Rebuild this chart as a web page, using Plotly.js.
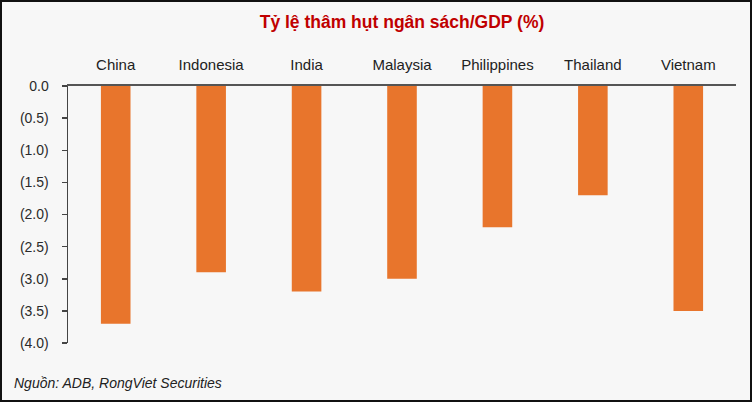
<!DOCTYPE html>
<html>
<head>
<meta charset="utf-8">
<script src="https://cdn.plot.ly/plotly-3.0.1.min.js"></script>
<style>
html,body{margin:0;padding:0;background:#f7f7f7;}
#wrap{position:relative;width:752px;height:402px;}
#chart{width:752px;height:402px;}
#frame{position:absolute;left:0;top:0;width:752px;height:402px;box-sizing:border-box;border:2px solid #111;pointer-events:none;}
</style>
</head>
<body>
<div id="wrap"><div id="chart"></div><div id="frame"></div></div>
<script>
const categories = ["China", "Indonesia", "India", "Malaysia", "Philippines", "Thailand", "Vietnam"];
const deficit = [-3.7, -2.9, -3.2, -3.0, -2.2, -1.7, -3.5];
const yTickVals = [0, -0.5, -1, -1.5, -2, -2.5, -3, -3.5, -4];
const yTickText = ["0.0", "(0.5)", "(1.0)", "(1.5)", "(2.0)", "(2.5)", "(3.0)", "(3.5)", "(4.0)"];
const titleText = "Tỷ lệ thâm hụt ngân sách/GDP (%)";
const sourceText = "Nguồn: ADB, RongViet Securities";

const trace = {
  type: "bar",
  x: categories,
  y: deficit,
  marker: {color: "#e8752c", line: {width: 0}},
  hoverinfo: "skip"
};

const layout = {
  width: 752,
  height: 402,
  paper_bgcolor: "#f7f7f7",
  plot_bgcolor: "#f7f7f7",
  margin: {l: 68, r: 16, t: 86, b: 59},
  bargap: 0.69,
  showlegend: false,
  font: {family: "Liberation Sans, Arial, sans-serif", color: "#222"},
  title: {
    text: "<b>" + titleText + "</b>",
    font: {size: 17.5, color: "#c00000", family: "Liberation Sans, Arial, sans-serif"},
    x: 0.5, xref: "paper", xanchor: "center",
    y: 0.945, yref: "container", yanchor: "middle"
  },
  xaxis: {
    side: "top",
    type: "category",
    showline: true,
    linecolor: "#555",
    linewidth: 2,
    ticks: "",
    showgrid: false,
    zeroline: false,
    tickfont: {size: 15, color: "#222"},
    ticklabelstandoff: 8,
    fixedrange: true
  },
  yaxis: {
    range: [-4, 0],
    tickvals: yTickVals,
    ticktext: yTickText,
    showline: true,
    linecolor: "#444",
    linewidth: 1.5,
    ticks: "outside",
    ticklen: 5,
    tickwidth: 1.5,
    tickcolor: "#444",
    showgrid: false,
    zeroline: false,
    tickfont: {size: 14, color: "#2a2a2a"},
    ticklabelstandoff: 10,
    fixedrange: true
  },
  annotations: [{
    text: "<i>" + sourceText + "</i>",
    xref: "paper", yref: "paper",
    x: -0.084, y: -0.155,
    xanchor: "left", yanchor: "middle",
    showarrow: false,
    font: {size: 14, color: "#222"}
  }]
};

Plotly.newPlot("chart", [trace], layout, {displayModeBar: false, staticPlot: true});
</script>
</body>
</html>
